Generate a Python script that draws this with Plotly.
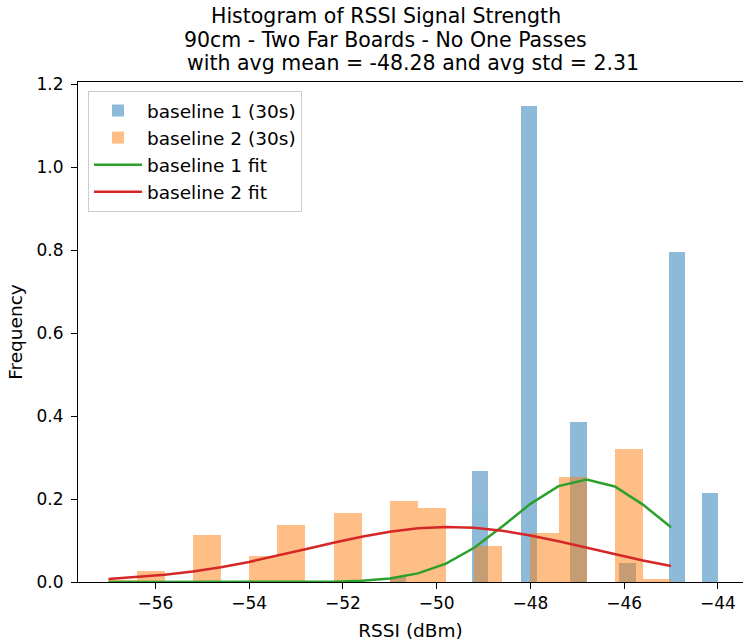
import plotly.graph_objects as go

# Baseline 1 histogram (density), bin edges in dBm
b1_edges = [-51.0, -50.65, -50.3, -49.95, -49.6, -49.25, -48.9, -48.55, -48.2, -47.85,
            -47.5, -47.15, -46.8, -46.45, -46.1, -45.75, -45.4, -45.05, -44.7, -44.35, -44.0]
b1_density = [0.012, 0, 0, 0, 0, 0.268, 0, 0, 1.148, 0,
              0, 0.385, 0, 0, 0.046, 0, 0, 0.796, 0, 0.215]

# Baseline 2 histogram (density), bin edges in dBm
b2_edges = [-57.0, -56.4, -55.8, -55.2, -54.6, -54.0, -53.4, -52.8, -52.2, -51.6,
            -51.0, -50.4, -49.8, -49.2, -48.6, -48.0, -47.4, -46.8, -46.2, -45.6, -45.0]
b2_density = [0.004, 0.026, 0, 0.114, 0, 0.0625, 0.137, 0, 0.167, 0,
              0.195, 0.179, 0, 0.088, 0, 0.118, 0.254, 0, 0.320, 0.007]

# Gaussian fits sampled on the baseline 2 bin edges
fit_x = b2_edges
fit1_y = [0.0, 0.0, 0.0, 0.0, 0.0, 0.000005, 0.00006, 0.00025, 0.0009, 0.0030,
          0.0085, 0.0208, 0.0444, 0.0826, 0.1336, 0.1884, 0.2312, 0.2472, 0.2302, 0.1866, 0.1318]
fit2_y = [0.0072, 0.0114, 0.0174, 0.0254, 0.0358, 0.0484, 0.0630, 0.0788, 0.0946, 0.1092,
          0.1212, 0.1293, 0.1325, 0.1305, 0.1235, 0.1123, 0.0982, 0.0825, 0.0666, 0.0517, 0.0385]

title_lines = ["Histogram of RSSI Signal Strength",
               "90cm - Two Far Boards - No One Passes",
               "with avg mean = -48.28 and avg std = 2.31"]

FONT = "DejaVu Sans"


def bars(edges):
    centers = [(a + b) / 2 for a, b in zip(edges[:-1], edges[1:])]
    widths = [b - a for a, b in zip(edges[:-1], edges[1:])]
    return centers, widths


fig = go.Figure()

c1, w1 = bars(b1_edges)
fig.add_trace(go.Bar(x=c1, y=b1_density, width=w1, name="baseline 1 (30s)",
                     marker=dict(color="#1f77b4", line=dict(width=0)), opacity=0.5))
c2, w2 = bars(b2_edges)
fig.add_trace(go.Bar(x=c2, y=b2_density, width=w2, name="baseline 2 (30s)",
                     marker=dict(color="#ff7f0e", line=dict(width=0)), opacity=0.5))
fig.add_trace(go.Scatter(x=fit_x, y=fit1_y, mode="lines", name="baseline 1 fit",
                         line=dict(color="#2ca02c", width=2.5)))
fig.add_trace(go.Scatter(x=fit_x, y=fit2_y, mode="lines", name="baseline 2 fit",
                         line=dict(color="#d62728", width=2.5)))

# Multi-line title, one annotation per line (plot area spans x 78..743 px)
title_pos = [(386, 16), (385, 39.5), (413, 63)]
for text, (px, py) in zip(title_lines, title_pos):
    fig.add_annotation(text=text, x=(px - 78) / 665, y=(582 - py) / 500,
                       xref="paper", yref="paper",
                       xanchor="center", yanchor="middle", showarrow=False,
                       font=dict(family=FONT, size=20.5, color="#000"))

fig.update_layout(
    width=743, height=643,
    margin=dict(l=78, r=0, t=82, b=61),
    paper_bgcolor="white", plot_bgcolor="white",
    barmode="overlay", bargap=0,
    font=dict(family=FONT, size=17, color="#000"),
    showlegend=True,
    legend=dict(x=0.015, y=0.982, xanchor="left", yanchor="top",
                bgcolor="rgba(255,255,255,0.8)", bordercolor="#cccccc", borderwidth=1,
                font=dict(family=FONT, size=18.5), tracegroupgap=0, itemwidth=48),
)
fig.update_xaxes(range=[-57.65, -43.465], tickmode="linear", tick0=-56, dtick=2,
                 ticks="outside", ticklen=6, tickwidth=1, tickcolor="#000",
                 showline=True, linecolor="#000", linewidth=1, mirror=True,
                 showgrid=False, zeroline=False,
                 title=dict(text="RSSI (dBm)", font=dict(family=FONT, size=18.5), standoff=11))
fig.update_yaxes(range=[0, 1.2054], tickmode="linear", tick0=0, dtick=0.2, tickformat=".1f",
                 ticks="outside", ticklen=6, tickwidth=1, tickcolor="#000",
                 showline=True, linecolor="#000", linewidth=1, mirror=False,
                 showgrid=False, zeroline=False, ticklabelstandoff=4,
                 title=dict(text="Frequency", font=dict(family=FONT, size=18.5), standoff=9))

fig.write_html("out.html")
